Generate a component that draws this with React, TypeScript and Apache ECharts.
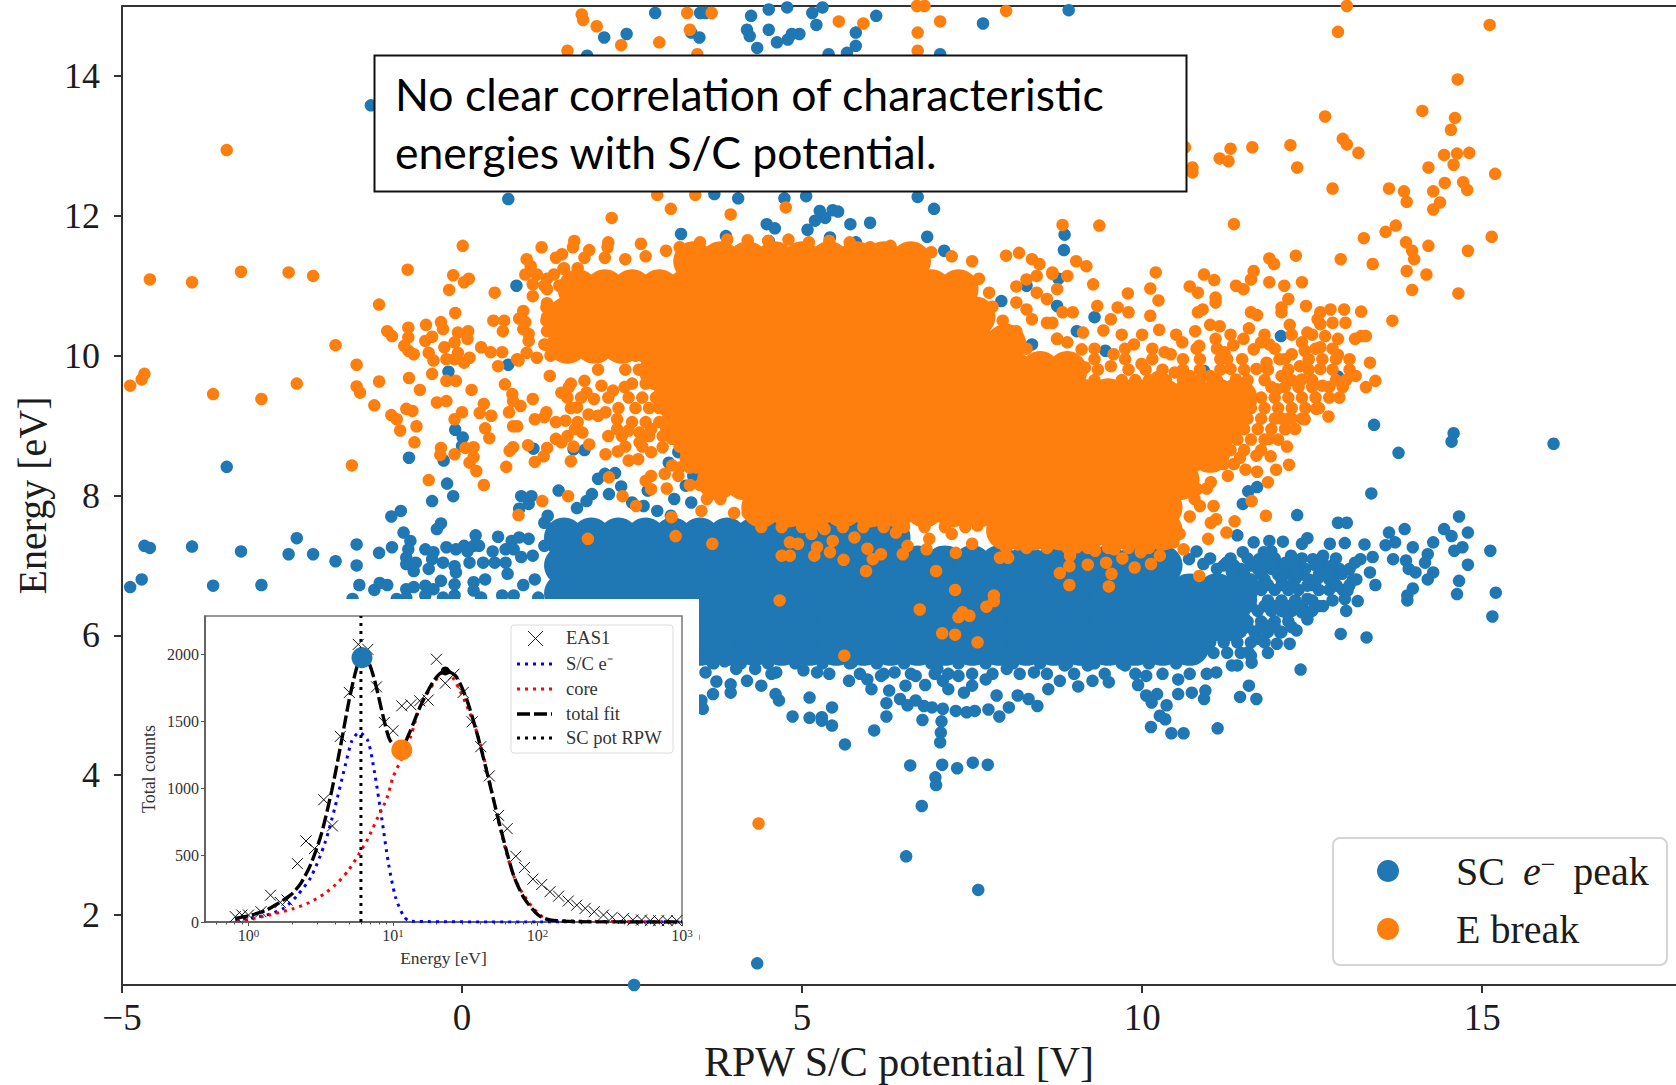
import React, { useEffect, useRef } from "react";
import * as echarts from "echarts";

// Each row: energy, then the potentials of marks across the saturated mass at that energy.
const blueCoreRows = [
  [7.4, 1.5,1.9,2.3,2.7,3.1,3.5,3.9,4.3,4.7,5.1,5.5,5.9,6.3],
  [7.0, 1.5,1.9,2.3,2.7,3.1,3.5,3.9,4.3,4.7,5.1,5.5,5.9,6.3,6.7,7.1,7.5,7.9,8.3,8.7,9.1,9.5,9.9,10.3],
  [6.6, 1.5,1.9,2.3,2.7,3.1,3.5,3.9,4.3,4.7,5.1,5.5,5.9,6.3,6.7,7.1,7.5,7.9,8.3,8.7,9.1,9.5,9.9,10.3,10.7,11.1,11.4],
  [6.2, 3.5,3.9,4.3,4.7,5.1,5.5,5.9,6.3,6.7,7.1,7.5,7.9,8.3,8.7,9.1,9.5,9.9,10.3,10.7,11.1,11.3],
  [5.85, 3.5,3.9,4.3,4.7,5.1,5.5,5.9,6.3,6.7,7.1,7.5,7.9,8.3,8.7,9.1,9.5,9.9,10.3,10.7],
];
const orangeCoreRows = [
  [11.35, 3.4,3.8,4.2,4.6,5,5.4,5.8,6.2,6.6],
  [10.95, 1.7,2.1,2.5,2.9,3.3,3.7,4.1,4.5,4.9,5.3,5.7,6.1,6.5,6.9,7.3],
  [10.56, 1.55,1.95,2.35,2.75,3.15,3.55,3.95,4.35,4.75,5.15,5.55,5.95,6.35,6.75,7.15,7.55],
  [10.17, 1.55,1.95,2.35,2.75,3.15,3.55,3.95,4.35,4.75,5.15,5.55,5.95,6.35,6.75,7.15,7.55,8.0],
  [9.78, 2.9,3.3,3.7,4.1,4.5,4.9,5.3,5.7,6.1,6.5,6.9,7.3,7.7,8.1,8.5,8.9],
  [9.39, 3.1,3.5,3.9,4.3,4.7,5.1,5.5,5.9,6.3,6.7,7.1,7.5,7.9,8.3,8.7,9.1,9.5,9.9,10.3,10.7,11.1,11.4],
  [9.0, 3.2,3.6,4,4.4,4.8,5.2,5.6,6,6.4,6.8,7.2,7.6,8,8.4,8.8,9.2,9.6,10,10.4,10.8,11.2],
  [8.61, 3.5,3.9,4.3,4.7,5.1,5.5,5.9,6.3,6.7,7.1,7.5,7.9,8.3,8.7,9.1,9.5,9.9,10.3,10.7,11],
  [8.22, 3.75,4.15,4.55,4.95,5.35,5.75,6.15,6.55,6.95,7.35,7.75,8.15,8.55,8.95,9.35,9.75,10.15,10.55],
  [7.83, 4.4,4.8,5.2,5.6,6,6.4,6.8,7.2,7.6,8,8.4,8.8,9.2,9.6,10,10.3],
  [7.5, 8,8.4,8.8,9.2,9.6,10,10.3],
];
// Dense single marks around the masses, row by row.
const blueFillRows = [
  [7.2, 10.8,11.9],
  [7.1, 11,11.3,11.55,11.95,12.2,12.35,12.65,12.85],
  [7.0, 11.2,11.35,11.6,11.85,12.05,12.25,12.55,12.8],
  [6.95, 11.1,11.45,11.7,11.9,12.1,12.4,12.7,12.9,13.05],
  [6.87, 11.5,11.75,12,12.2,12.35,12.6,12.85],
  [6.8, 11.6,11.8,12.05,12.25,12.45,12.75,13.1],
  [6.72, 11.65,11.85,12.05,12.2,12.5,12.85,13.05],
  [6.65, 11.75,11.95,12.15,12.3,12.6,12.75,12.95],
  [6.5, 11.6,11.85,12.05,12.25,12.5,12.8],
  [6.42, 11.6,11.8,11.95,12.15,12.35,12.6],
  [6.35, 11.5,11.7,11.9,12.05,12.2,12.5],
  [6.2, 11.55,11.75,11.95,12.15],
  [6.12, 11.4,11.55,11.75,11.95,12.2],
  [6.05, 11.3,11.45,11.65,11.85,12.05],
  [5.9, 11,11.2,11.4,11.6,11.8],
  [5.75, 10.85,11.05,11.25,11.45],
  [5.6, 3.7,4.1,4.5,4.9,5.3,5.7,6.1,6.5,6.9,7.3,7.7,8.1,8.5,8.9,9.3,9.7,10.1,10.5],
  [5.45, 4.55,5.4,5.85,6.2,6.6,6.95,7.15,7.5,7.8,8.2,8.6,9,9.45,9.9,10.3,10.7,10.95],
];
const orangeFillRows = [
  [11.25, 1.5,1.7],
  [11.1, 1.25],[10.95, 1.25],[10.75, 1.25],[10.55, 1.25],[10.35, 1.25],[10.15, 1.25],
  [10, 1.3,1.6,1.85,2.3,2.55,2.8],
  [9.8, 2,2.4,2.6,2.8],
  [9.6, 1.6,2.5,2.7,2.9,3],
  [9.4, 1.55,1.75,2.15,2.45,2.65,2.85],
  [9.25, 1.6,2.3,2.55,2.75,2.9],
  [9.05, 1.7,2.5,2.7,2.9],
  [8.85, 1.55,2.15,2.35,2.75,2.95,3.05],
  [8.7, 2.4,2.65,3.2],
  [8.4, 3.2,3.35,3.45],
  [8.15, 3.35,3.5],
  [7.95, 3.6,3.8],
  [7.75, 4,4.2,4.4],
  [7.55, 4.4,4.7,5,5.3,5.6,5.9,6.2,6.5,6.8,7.1,7.4],
  [7.25, 8,8.3,8.6,8.9,9.2,9.5,9.8,10.1],
  [10.3, 9.7,10,10.5,11.3,11.8,12.2,12.5],
  [10.1, 8.3,9.3,9.75,10.15,10.8,11.1,11.95,12.55,12.8],
  [9.95, 8.55,9.3,9.75,10.15,10.6,10.85,11.15,11.25,12.1,12.45,12.85,13.05],
  [9.8, 8.95,9.35,9.8,10.05,10.3,10.6,10.85,11.15,11.5,11.85,12.15,12.45,12.8,13.05],
  [9.65, 9.3,9.7,9.9,10.1,10.35,10.6,10.85,11.1,11.55,11.8,12.2,12.5,12.85,13],
  [9.55, 11.9,12.1,12.3,12.5,12.75,12.95],
  [9.4, 11.75,11.95,12.15,12.35,12.55,12.75,12.9],
  [9.25, 11.6,11.8,12,12.2,12.4,12.6],
  [9.1, 11.55,11.75,11.95,12.05,12.15,12.2,12.35],
  [8.95, 11.5,11.7,11.9,12.1,12.25],
  [8.8, 11.4,11.6,11.8,12],
  [8.65, 11.3,11.5,11.75],
  [8.45, 11,11.2,11.35],
  [8.1, 10.95],[7.85, 10.85],[7.7, 10.7],[7.45, 10.55],
  [11.1, 7.6],[10.9, 7.75],[10.7, 7.8],[10.5, 7.95],[10.35, 8.15],
];

// Individual marks: flat x,y pairs.
const blueUpper = [-1.34,13.58,0.68,12.24,3.22,11.74,0.8,11,0.68,9.87,-0.2,9.77,2.84,14.9,2.09,14.55,2.42,14.6,1.84,14.29,3.37,14.62,3.49,14.55,3.5,14.9,
  6.09,14.86,5.15,14.9,5.3,14.98,4.51,14.95,4.78,14.98,4.25,14.86,5.21,14.73,4.51,14.66,4.19,14.66,4.23,14.57,4.96,14.6,4.85,14.6,4.79,14.52,4.63,14.48,5.79,14.62,5.79,14.43,4.34,14.4,5.39,14.31,5.66,14.33,7.66,14.75,8.92,14.94,7.03,14.31,3.58,14.9,
  3.71,12.31,4.06,12.25,4.74,12.25,5.06,12.28,6.7,12.27,6.94,12.1,5.26,12.07,5.45,12.08,5.53,12.06,5.34,11.97,5.19,11.93,5.71,11.88,6,11.9,4.48,11.88,4.6,11.82,5.08,11.8,5.41,11.69,3.88,11.71,4.51,11.64,5.79,11.62,6.84,11.7,7.09,11.5,8.86,11.73,8.85,11.51,
  7.93,10.78,8.3,11,8.75,10.71,8.38,10.16,12.04,10.28,9.3,10.55,9.04,10.35,9.46,10.07,10.91,9.78,12.88,9.7,8.77,11.1];
const blueLeft = [-3.46,8.41,-0.78,8.54,-0.27,8.5,-0.1,8.94,0.01,8.83,0,8.71,1.05,8.67,1.64,8.66,1.8,8.65,-0.22,8.17,-0.13,7.99,-0.44,7.92,-0.9,7.78,-1.04,7.7,-0.31,7.6,-0.37,7.52,
  -4.67,7.28,-4.59,7.25,-3.97,7.27,-3.25,7.2,-2.43,7.39,-2.55,7.16,-2.19,7.16,-1.86,7.06,-1.55,7.3,-1.55,7,-1.22,7.18,-1.03,7.26,-4.88,6.69,-4.71,6.8,-3.66,6.71,-2.95,6.72,-1.51,6.72,-1.29,6.65,-1.21,6.75,-1.1,6.72,
  -0.86,7.47,-0.76,7.35,-0.79,7.23,-0.82,7.11,-0.82,7.02,-0.68,7.04,-0.71,6.92,-0.49,6.95,-0.54,7.23,-0.42,7.19,-0.44,7.09,-0.28,7.04,-0.09,7.23,-0.23,7.26,0.03,7.28,0.2,7.43,0.17,7.28,0.25,7.28,-0.11,6.99,-0.09,6.9,0.08,7.2,0.11,7.04,0.31,7.04,0.45,7.2,0.48,7.04,
  0.53,7.41,0.73,7.35,0.84,7.4,0.98,7.38,0.64,7.23,0.76,7.23,0.64,7.04,0.67,6.88,0.87,7.12,1.04,7.14,1.21,7.28,1.21,7.61,1.26,7.71,0.34,6.8,0.17,6.76,0.17,6.64,0.9,6.72,1.07,6.8,
  -0.82,6.66,-0.71,6.69,-0.54,6.71,-0.42,6.66,-0.31,6.78,-0.11,6.73,-0.54,6.57,-0.82,6.54,-0.96,6.52,-1.61,6.52,-0.11,6.57,-0.28,6.54,0.28,6.54,0.59,6.57,0.76,6.57,1.12,6.54,
  0.87,7.99,1.02,7.99,0.84,7.81,0.98,7.88,1.42,8.07,1.69,7.82,1.83,7.92,1.91,8.02,2.16,8.02,2,8.24,2.1,8.31,2.25,8.32,2.34,8.13,3.04,8.47,3.18,8.62,2.73,8.07,2.5,7.9,2.67,7.85,2.87,7.78,3.07,7.71,3.4,8.28,3.29,8.14,3.12,7.95,3.37,7.9,5.18,8.19,9.23,7.88];
const blueRight = [13.41,9.01,14.58,8.89,14.55,8.77,13.77,8.61,13.37,8.03,12.28,7.72,12.88,7.61,13.01,7.61,14.66,7.7,11.56,8.06,11.69,8.12,11.48,7.88,16.05,8.74,
  11.4,7.43,11.64,7.33,11.87,7.35,12.07,7.34,12.35,7.31,12.43,7.39,12.76,7.31,12.98,7.32,13.27,7.3,13.58,7.29,13.63,7.47,13.86,7.52,13.72,7.33,13.98,7.26,14.28,7.33,14.44,7.52,14.55,7.42,14.79,7.47,14.71,7.26,14.59,7.21,15.12,7.21,14.79,7.01,
  13.69,7.09,13.88,7.07,13.92,6.95,14.02,6.9,14.2,7.16,14.16,7.04,14.28,6.9,14.2,6.8,13.39,7.12,13.21,7.09,13.13,7.04,13.35,6.9,13.15,6.8,13.43,6.72,13.98,6.67,13.9,6.57,13.9,6.5,14.66,6.78,14.63,6.59,15.2,6.61,15.15,6.27,
  13.17,6.49,13,6.35,12.92,6.02,13.3,5.97,12.33,5.51,12.43,6.23,12.27,6.07,12.17,5.88,11.98,5.88,11.85,5.75,
  12.51,7.09,12.66,7.14,12.78,6.99,12.94,6.88,12.86,6.71,13.02,6.64,12.98,6.52,12.66,6.42,12.43,6.52,12.58,6.81,12.19,7.14,12.27,6.9,12.11,7.04,11.87,7.09,11.79,7.19,12.43,6.71,12.35,6.33,12.11,6.33,11.87,6.14,12.03,6.04,11.72,5.95,11.56,5.76,11.4,5.57,11.6,5.71,10.69,7.09,11.24,7.04,11.48,7.19,11.72,7.09,11.32,6.9,10.9,7.02];
const blueLower = [11.57,5.28,11.44,5.12,11.68,5.09,11.11,4.67,10.61,4.6,10.43,4.6,10.13,4.69,10.34,4.8,10.26,4.85,10.93,5.21,10.91,5.09,10.73,5.18,10.53,5.16,10.36,5,10.14,5.04,10.06,5.14,9.94,5.29,10.22,5.16,
  9.51,5.33,9.27,5.35,9.06,5.27,8.79,5.35,8.62,5.23,8.46,4.99,8.33,5.09,8.17,5.14,8.04,4.97,7.9,4.84,7.86,5.14,7.74,4.94,7.54,4.92,7.42,4.9,7.26,4.92,7.07,4.95,6.91,4.97,6.79,4.99,6.67,5.07,6.44,5.09,6.55,5,6.24,5.03,6.24,4.84,6.06,4.64,
  6.77,4.79,7.05,4.77,7.04,4.61,7.03,4.47,6.59,4.14,7.06,4.15,7.28,4.1,7.51,4.18,7.73,4.15,6.96,3.97,6.97,3.86,6.76,3.56,
  5.63,4.44,5.44,4.71,5.29,4.83,5.29,4.78,5.11,4.82,4.86,4.84,5.44,4.97,5.11,5.11,4.66,5.07,4.61,5.16,4.4,5.28,3.95,5.3,3.95,5.18,3.69,5.16,3.74,5.34,4.19,5.35,3.54,4.95,3.52,5.07,3.58,5.47,3.86,5.63,
  5.69,5.35,6.02,5.23,6.28,5.21,5.96,5.37,6.16,5.42,6.52,5.28,6.81,5.29,7.07,5.35,7.15,5.23,7.38,5.18,7.5,5.28,4.62,5.47,5.22,5.47,5.02,5.5,4.31,5.52,4.03,5.52,3.68,5.61,
  5.73,5.61,6.36,5.47,6.67,5.42,6.99,5.52,7.3,5.42,7.7,5.37,8.01,5.52,8.41,5.47,8.86,5.57,9.2,5.57,9.75,5.57,10.06,5.42,10.53,5.37,11.09,5.47,11.32,5.57,11.61,5.61,
  4.34,1.31,2.53,1.0,6.53,2.84,7.59,2.36];

const orangeFarLeft = [-4.88,9.57,-4.71,9.66,-4.67,9.74,-3.66,9.45,-2.95,9.38,-2.43,9.6,-1.55,9.87,-1.55,9.56,-1.5,9.47,-1.22,9.63,-0.78,9.68,-0.62,9.51,-0.44,9.74,-1.29,9.29,-1.04,9.15,-0.96,9.09,-0.82,9.24,-0.73,9.21,-0.91,8.93,-0.67,8.99,-0.7,8.76,-1.62,8.43,-0.49,8.22,-0.31,8.68,-0.32,8.58,-0.11,8.59,0.05,8.68,0.17,8.69,0.17,8.55,0.11,8.47,0.21,8.35,0.32,8.15,
  -3.46,12.94,-4.59,11.09,-3.97,11.05,-3.25,11.2,-2.55,11.19,-2.19,11.14,-0.8,11.23,0.01,11.57,-0.13,11.15,-0.19,10.94,0.03,11.05,0.1,11.1,0.48,10.9,-1.22,10.73,-0.1,10.61,-1.86,10.15,-1.1,10.35,-1.03,10.28,-0.79,10.4,-0.79,10.26,-0.53,10.44,-0.31,10.48,-0.28,10.38,-0.06,10.33,0.09,10.35,0.08,10.24,0.46,10.5,0.62,10.5,0.6,10.35,
  -0.54,10.21,-0.44,10.27,-0.85,10.14,-0.79,10.07,-0.71,10.02,-0.49,10.04,-0.42,9.93,-0.26,10.12,-0.11,10.19,-0.06,10.04,-0.23,9.95,-0.11,9.95,0.11,9.97,0.03,9.9,0.28,10.12,0.42,10.05,0.59,10.05];
const orangeNearLeft = [0.65,8.41,0.7,8.64,0.75,8.69,0.97,8.72,1.07,8.48,1.2,8.56,1.25,8.68,1.6,8.49,1.64,8.7,1.87,8.73,2.11,8.59,2.29,8.63,1.18,7.92,0.83,7.72,1.56,7.99,2.16,8.26,2.36,7.99,2.56,7.85,1.85,7.38,3.08,7.69,3.14,7.42,
  -0.11,9.09,0,9.19,-0.37,9.33,-0.23,9.35,0.14,9.51,-0.23,9.64,-0.09,9.64,0.32,9.31,0.26,9.18,0.43,9.14,0.34,8.96,0.4,8.82,0.69,9.19,0.75,8.99,0.81,8.99,0.63,9.59,0.74,9.45,0.75,9.35,0.86,9.28,1.04,9.38,0.53,9.85,0.83,9.93,1.29,9.71,
  1.07,9.09,1.21,9.12,1.24,9.19,1.38,9.05,1.52,9.07,1.66,8.95,1.77,8.9,1.38,8.81,1.46,8.76,1.46,9.47,1.57,9.55,1.8,9.64,1.83,9.47,1.69,9.26,1.94,9.38,1.86,9.16,2,9.14,2.11,9.19,2.05,9.57,2.22,9.5,2.39,9.55,
  2.28,9.09,2.28,8.95,2.45,8.93,2.61,8.9,2.61,8.76,2.78,8.95,2.45,8.5,2.59,8.52,2.78,8.62,2.95,8.69,3.09,8.81,2.7,8.21,2.78,8.28,2.98,8.31,3.01,8.1,3.18,8.28,3.09,8.43,3.29,8.52,2.78,8.09,
  0.95,11.38,1.01,11.28,1.1,11.16,0.93,11.16,1.17,11.55,1.38,11.4,1.47,11.45,1.49,11.24,1.35,11.16,1.65,11.64,1.63,11.55,1.87,11.51,2.15,11.62,2.14,11.55,2.63,11.6,1.04,11.02,1.21,11,1.04,10.85,1.43,11,1.24,10.69,1.24,10.5,1.21,10.16,
  0.9,10.64,0.84,10.53,0.93,10.48,0.9,10.38,0.98,10.31,0.98,10.21,0.81,9.95,0.95,10.04,1.1,9.97,
  1.8,11.4,2.1,11.4,2.4,11.38,2.7,11.42,3,11.5,3.2,11.55,3.5,11.62,3.9,11.66,4.2,11.65,4.5,11.64,4.8,11.66,5.1,11.62,5.4,11.64,5.7,11.62,6,11.55,6.3,11.57,6.6,11.5,6.9,11.48,7.2,11.42,7.5,11.35];
const orangeLower = [3.52,7.78,3.68,7.31,4.67,6.5,5.62,5.71,4.7,7.14,4.82,7.14,4.82,7.33,4.94,7.31,5.18,7.14,5.22,7.26,5.41,7.19,5.45,7.35,5.14,7.54,5.14,7.45,5.33,7.52,5.61,7.08,5.77,7.4,5.94,6.92,5.96,7.24,6.04,7.09,6.16,7.16,6.48,7.16,6.38,7.47,6.55,7.28,6.83,7.23,6.87,7.38,6.97,6.92,7.26,7.18,7.2,7.45,7.5,7.31,
  7.91,7.11,8.03,7.11,7.97,7.33,8.17,7.3,8.37,7.4,7.58,7.57,7.25,6.65,6.73,6.37,7.82,6.57,7.82,6.49,7.71,6.41,7.3,6.26,7.36,6.33,7.46,6.28,7.06,6.03,7.25,6.01,7.58,5.9,
  8.79,6.89,8.93,6.72,8.93,6.99,8.94,7.14,9.2,7.01,9.55,6.88,9.51,6.7,9.04,7.26,9.47,7.04,9.71,7.1,9.89,6.97,10.13,7.02,10.26,7.14,10.61,7.23,10.84,6.85,9.31,7.21,9.59,7.23,9.98,7.19,10.46,7.33,10.97,7.38,11.24,7.47,11.36,7.63,11.09,7.66,11.01,7.61,
  11.05,7.85,11.61,7.92,11.82,7.71,11.85,8.19,11.52,8.37,11.69,8.34,11.97,8.37,12.16,8.44,11.26,8.28,11.68,8.57,11.89,8.56,11.44,8.54,12.13,8.7,12.74,9.13,12.56,9.24,12.39,9.09,10.81,8.09,11.01,8.19,10.77,7.95,12.11,8.95,11.87,8.81,
  4.36,3.31,3.41,1.68];
const orangeUpper = [1.76,14.88,1.78,14.8,1.98,14.71,2.34,14.44,2.9,14.48,3.31,14.9,3.35,14.66,1.55,14.36,3.46,14.31,2.2,11.97,3.07,12.1,2.87,12.3,3.43,12.3,
  12.88,14.63,15.11,14.73,13.01,15,14.64,13.95,14.12,13.5,14.6,13.4,12.69,13.42,14.54,13.23,12.95,13.1,13.01,13.02,13.18,12.9,12.18,13.01,11.62,12.98,11.3,12.96,11.14,12.82,11.27,12.78,12.28,12.69,10.74,12.69,10.74,12.62,10.63,12.98,12.8,12.39,13.63,12.39,13.85,12.35,13.89,12.2,14.28,12.35,14.38,12.19,14.28,12.09,14.45,12.47,14.72,12.48,14.78,12.37,14.21,12.69,14.44,12.87,14.63,12.89,14.81,12.9,14.58,12.73,15.19,12.6,15.14,11.7,14.79,11.5,14.21,11.57,13.73,11.86,13.58,11.77,13.26,11.68,13.88,11.62,13.97,11.5,14,11.38,13.39,11.31,12.92,11.38,12.26,11.43,11.87,11.39,11.94,11.31,11.35,11.88,13.89,11.21,14.18,11.16,13.97,10.94,14.65,10.89,13.68,10.5,9.37,11.86,8.83,11.87,9.03,11.35,9.18,11.28,
  8,14.93,6.7,14.62,7.03,14.78,6.69,15,6.8,15,5.9,14.75,5.54,14.78,6.7,14.36,3.67,14.9,3.95,12.02,4.76,12.12];
const orangeWing = [10.2,11.19,10.91,11.16,11.06,11.08,10.7,10.99,10.82,10.9,11.08,10.83,11.08,10.76,10.12,10.96,9.79,10.89,10.24,10.79,9.28,11.02,8.9,11.14,8.68,11.17,10.89,10.66,10.82,10.62,9.34,10.71,9.64,10.69,9.54,10.52,9.8,10.62,10.12,10.57,10.25,10.37,9.43,10.36,9.88,10.16,9.11,10.09,10.33,10.05,10.42,10.02,10.59,10.19,10.84,10.14,10.78,10.35,11,10.44,11.14,10.42,11.08,10.24,11.34,10.15,11.21,10.05,11.49,10.24,11.57,10.39,
  11.38,11,11.49,10.95,11.6,11.09,11.64,11.21,11.87,11.05,12.09,11,12.35,11.05,12.15,10.81,12.05,10.69,12.05,10.62,12.41,10.71,11.6,10.62,11.69,10.58,12.17,10.44,12.62,10.62,12.77,10.66,12.97,10.66,13.22,10.63,12.62,10.45,12.8,10.47,12.99,10.47,12.58,10.52,
  12.43,10.33,12.35,10.19,12.69,10.28,12.88,10.24,13.22,10.28,13.13,10.24,13.29,10.28,12.62,10.12,12.88,10.01,13.35,9.9,13.14,9.71,13.43,9.64,13.29,9.55,
  11.75,10.19,11.87,10.16,11.47,9.95,11.64,10.09,11.83,9.9,12.02,9.95,12.2,10.02,12.39,10.07,12.65,9.95,12.32,9.85,12.62,9.81,12.05,9.71,12.35,9.66,12.65,9.57,11.98,9.52,11.38,9.66,11.68,9.81,11.3,9.81,11,9.71,10.7,9.71,10.48,9.76,10.22,9.69,9.99,9.88,9.58,10.02,9.54,9.85,9.16,9.83,8.9,10.19,9.13,10.33,8.75,10.24,8.6,10.47,
  8,11.43,8.19,11.47,8.38,11.38,8.49,11.31,8.3,11.09,8.45,11.14,8.15,10.99,8.68,11.19,8.45,10.9,8.15,10.76,8.3,10.66,8.6,10.81,8.75,10.95,8.83,10.62,8.98,10.62,8.38,10.52,8.68,10.47,8.75,10.24];

// Inset: EAS1 spectrum (energy eV, counts)
const eas1 = [0.81,40,0.9,52,1,52,1.22,77,1.42,200,1.66,146,1.85,164,2.18,436,2.5,605,2.86,548,3.32,913,3.81,717,4.32,1386,4.99,1714,5.75,2073,6.7,2036,7.69,1756,8.71,1490,10,1428,11.5,1614,13.3,1622,15.3,1652,17.5,1657,20,1962,23,1783,26.4,1850,30.6,1714,35.3,1495,40.5,1309,46.4,1091,53.8,796,61.7,697,70.8,491,81.2,407,93,320,107,280,122,226,140,193,163,156,187,126,214,102,247,77,286,52,329,35,394,27,457,15,525,15,603,10,689,10,790,10,920,10];
const totalFit = [0.81,27,1,47,1.33,89,1.95,200,2.3,288,2.71,436,3.2,660,3.77,982,4.32,1305,4.96,1652,5.53,1875,6,1974,6.7,1950,7.48,1800,8.58,1528,9.57,1354,11.3,1292,12.9,1404,15.7,1627,19.5,1813,23,1875,27.1,1838,32,1676,37.7,1428,44.4,1131,52.4,808,60,560,68.9,337,81,176,101,52,122,15,186,2,1000,0];
const scElectron = [0.81,15,1,27,1.33,52,1.75,102,2.18,200,2.71,337,3.37,585,3.97,858,4.7,1180,5.2,1354,5.84,1416,6.7,1354,7.48,1106,8.33,784,9.31,436,10.4,188,11.9,40,13.3,5,107,0,1000,0];
const coreFit = [0.83,15,1,20,1.4,52,2.07,102,2.64,146,3.37,213,4.2,300,4.96,392,5.84,511,6.7,622,7.87,784,9.04,920,10,1081,11.3,1205,13.3,1391,15.7,1627,23,1875,37.7,1428,68.9,337,122,15,1000,0];
const scPotLine = [6, 0, 6, 2285];
const peakMark = [6.1, 1974];
const breakMark = [11.5, 1285];
const corePeakMark = [23, 1875];

const xTicks = [-5, 0, 5, 10, 15];
const yTicks = [2, 4, 6, 8, 10, 12, 14];
const insetXMajor = [1, 10, 100, 1000];
const insetXMinor = [0.6,0.7,0.8,0.9,2,3,4,5,6,7,8,9,20,30,40,50,60,70,80,90,200,300,400,500,600,700,800,900];
const insetYTicks = [0, 500, 1000, 1500, 2000];

const BLUE = "#1f77b4";
const ORANGE = "#ff7f0e";
const SERIF = "Liberation Serif";
const INK = "#1c1c1c";
const SC_NAME = "SC e⁻ peak";
const BREAK_NAME = "E break";

const pairs = (a: number[]) => {
  const out: number[][] = [];
  for (let i = 0; i + 1 < a.length; i += 2) out.push([a[i], a[i + 1]]);
  return out;
};
const rows = (r: number[][]) => r.flatMap(([y, ...xs]) => xs.map((x) => [x, y]));

const scatter = (name: string, color: string, data: number[][], size: number) => ({
  type: "scatter", name, data, xAxisIndex: 0, yAxisIndex: 0, symbolSize: size, z: 1, clip: true,
  itemStyle: { color, opacity: 1 }, emphasis: { disabled: true },
});
const insetLine = (name: string, data: number[][], color: string, dash: number[], width: number, z = 4) => ({
  type: "line", name, data, xAxisIndex: 1, yAxisIndex: 1, showSymbol: false, symbol: "none", smooth: 0.25, z,
  lineStyle: { color, width, type: dash }, emphasis: { disabled: true },
});
const insetMark = (name: string, value: number[], size: number, color: string) => ({
  type: "scatter", name, data: [value], xAxisIndex: 1, yAxisIndex: 1, z: 6, symbolSize: size,
  itemStyle: { color, opacity: 1 }, emphasis: { disabled: true },
});

const DOT = [3, 5];
const legendRows = [
  { y: 664, color: "#0000ff", dash: DOT, width: 3 },
  { y: 689, color: "#ff0000", dash: DOT, width: 3 },
  { y: 714, color: "#000", dash: [13, 4], width: 3.4 },
  { y: 738, color: "#000", dash: DOT, width: 3 },
];

function buildOption() {
  const insetText = { fontFamily: SERIF, fontSize: 18.5, fill: "#333" };
  return {
    animation: false,
    backgroundColor: "#fff",
    grid: [
      { left: 122, top: 6, width: 1554, height: 979, show: false, outerBoundsMode: "none" },
      { left: 205, top: 616, width: 477, height: 306, show: true, backgroundColor: "#fff", borderColor: "#777", borderWidth: 1.5, z: 3, outerBoundsMode: "none" },
    ],
    xAxis: [
      {
        type: "value", gridIndex: 0, min: -5, max: 17.85, z: 0,
        name: "RPW S/C potential [V]", nameLocation: "middle", nameGap: 52,
        nameTextStyle: { fontFamily: SERIF, fontSize: 42, color: INK },
        axisLine: { onZero: false, lineStyle: { color: "#333", width: 2 } },
        axisTick: { show: true, length: 8, customValues: xTicks, lineStyle: { color: "#333", width: 2 } },
        axisLabel: { customValues: xTicks, margin: 14, fontFamily: SERIF, fontSize: 37, color: INK, formatter: (v: number) => String(v).replace("-", "−") },
        splitLine: { show: false },
      },
      {
        type: "log", gridIndex: 1, position: "bottom", min: 0.5, max: 1000, logBase: 10, z: 3,
        name: "Energy [eV]", nameLocation: "middle", nameGap: 27,
        nameTextStyle: { fontFamily: SERIF, fontSize: 17.5, color: "#333" },
        axisLine: { onZero: false, lineStyle: { color: "#555", width: 1.5 } },
        axisTick: { length: 4, customValues: insetXMajor, lineStyle: { color: "#555" } },
        axisLabel: {
          customValues: insetXMajor, margin: 5, fontFamily: SERIF, fontSize: 16, color: "#333", hideOverlap: false,
          formatter: (v: number) => `{b|10}{s|${Math.round(Math.log10(v))}}`,
          rich: { b: { fontFamily: SERIF, fontSize: 16, color: "#333" }, s: { fontFamily: SERIF, fontSize: 11, color: "#333", verticalAlign: "top" } },
        },
        splitLine: { show: false },
      },
      {
        type: "log", gridIndex: 1, position: "bottom", min: 0.5, max: 1000, logBase: 10, z: 3,
        axisLine: { show: false, onZero: false },
        axisTick: { length: 2.5, customValues: insetXMinor, lineStyle: { color: "#555" } },
        axisLabel: { show: false }, splitLine: { show: false },
      },
    ],
    yAxis: [
      {
        type: "value", gridIndex: 0, min: 1, max: 15, z: 0,
        name: "Energy [eV]", nameLocation: "middle", nameGap: 70,
        nameTextStyle: { fontFamily: SERIF, fontSize: 40, color: INK },
        axisLine: { show: true, onZero: false, lineStyle: { color: "#333", width: 2 } },
        axisTick: { show: true, length: 8, customValues: yTicks, lineStyle: { color: "#333", width: 2 } },
        axisLabel: { customValues: yTicks, margin: 22, fontFamily: SERIF, fontSize: 36, color: INK },
        splitLine: { show: false },
      },
      {
        type: "value", gridIndex: 1, min: 0, max: 2285, z: 3,
        name: "Total counts", nameLocation: "middle", nameGap: 47,
        nameTextStyle: { fontFamily: SERIF, fontSize: 18, color: "#333" },
        axisLine: { show: true, onZero: false, lineStyle: { color: "#555", width: 1.5 } },
        axisTick: { show: true, length: 4, customValues: insetYTicks, lineStyle: { color: "#555" } },
        axisLabel: { customValues: insetYTicks, margin: 6, fontFamily: SERIF, fontSize: 16, color: "#333", formatter: (v: number) => String(v) },
        splitLine: { show: false },
      },
    ],
    legend: {
      show: true, selectedMode: false, orient: "vertical", left: 1377, top: 851, padding: 0,
      data: [SC_NAME, BREAK_NAME], itemWidth: 22, itemHeight: 22, itemGap: 18, z: 4,
      textStyle: {
        fontFamily: SERIF, fontSize: 40, color: INK,
        rich: {
          g: { width: 52 },
          w: { width: 8 },
          t: { fontFamily: SERIF, fontSize: 40, color: INK },
          i: { fontFamily: SERIF, fontStyle: "italic", fontSize: 40, color: INK },
          s: { fontFamily: SERIF, fontSize: 26, color: INK, verticalAlign: "top" },
        },
      },
      formatter: (n: string) => (n === SC_NAME ? "{g|}{t|SC }{w|}{i|e}{s|−}{w|}{t| peak}" : `{g|}{t|${n}}`),
    },
    series: [
      scatter(SC_NAME, BLUE, rows(blueCoreRows), 40),
      scatter(SC_NAME, BLUE, [...rows(blueFillRows), ...pairs([...blueUpper, ...blueLeft, ...blueRight, ...blueLower])], 12.5),
      scatter(BREAK_NAME, ORANGE, rows(orangeCoreRows), 40),
      scatter(BREAK_NAME, ORANGE, [...rows(orangeFillRows), ...pairs([...orangeFarLeft, ...orangeNearLeft, ...orangeLower, ...orangeUpper, ...orangeWing])], 12.5),
      insetLine("S/C e⁻", pairs(scElectron), "#0000ff", DOT, 3),
      insetLine("core", pairs(coreFit), "#ff0000", DOT, 3),
      { ...insetLine("SC pot RPW", pairs(scPotLine), "#000", DOT, 3), smooth: false },
      insetLine("total fit", pairs(totalFit), "#000", [13, 4], 3.4, 5),
      {
        type: "scatter", name: "EAS1", data: pairs(eas1), xAxisIndex: 1, yAxisIndex: 1, z: 5,
        symbol: "path://M0 0L10 10M10 0L0 10", symbolSize: 11,
        itemStyle: { color: "transparent", borderColor: "#111", borderWidth: 1, opacity: 1 }, emphasis: { disabled: true },
      },
      insetMark("peak", peakMark, 21, BLUE),
      insetMark("break", breakMark, 21, ORANGE),
      insetMark("core peak", corePeakMark, 9, "#000"),
    ],
    graphic: {
      elements: [
        { type: "line", z: 1, shape: { x1: 122, y1: 6, x2: 1676, y2: 6 }, style: { stroke: "#333", lineWidth: 2 } },
        // white panel of the pasted inset
        { type: "rect", z: 2, shape: { x: 140, y: 599, width: 559, height: 376 }, style: { fill: "#fff" } },
        // annotation box
        { type: "rect", z: 20, shape: { x: 374.5, y: 55.5, width: 812, height: 136 }, style: { fill: "#fff", stroke: "#111", lineWidth: 2 } },
        { type: "text", z: 21, x: 395, y: 93, style: { text: "No clear correlation of characteristic", fontFamily: "Lato", fontSize: 44.5, fill: "#000", verticalAlign: "middle" } },
        { type: "text", z: 21, x: 395, y: 151, style: { text: "energies with S/C potential.", fontFamily: "Lato", fontSize: 44.5, fill: "#000", verticalAlign: "middle" } },
        // main legend frame
        { type: "rect", z: 3, shape: { x: 1333, y: 838, width: 334, height: 127, r: 7 }, style: { fill: "rgba(255,255,255,0.9)", stroke: "#d5d5d5", lineWidth: 2 } },
        // inset legend
        { type: "rect", z: 7, shape: { x: 511, y: 625, width: 162, height: 128, r: 3 }, style: { fill: "rgba(255,255,255,0.9)", stroke: "#ddd", lineWidth: 1 } },
        { type: "line", z: 8, shape: { x1: 528, y1: 631, x2: 543, y2: 646 }, style: { stroke: "#222", lineWidth: 1 } },
        { type: "line", z: 8, shape: { x1: 543, y1: 631, x2: 528, y2: 646 }, style: { stroke: "#222", lineWidth: 1 } },
        { type: "text", z: 8, x: 566, y: 638, style: { ...insetText, text: "EAS1", verticalAlign: "middle" } },
        ...legendRows.map((r) => ({ type: "line", z: 8, shape: { x1: 517, y1: r.y, x2: 552, y2: r.y }, style: { stroke: r.color, lineWidth: r.width, lineDash: r.dash } })),
        { type: "text", z: 8, x: 566, y: 664, style: { ...insetText, text: "S/C e⁻", verticalAlign: "middle" } },
        { type: "text", z: 8, x: 566, y: 689, style: { ...insetText, text: "core", verticalAlign: "middle" } },
        { type: "text", z: 8, x: 566, y: 714, style: { ...insetText, text: "total fit", verticalAlign: "middle" } },
        { type: "text", z: 8, x: 566, y: 738, style: { ...insetText, text: "SC pot RPW", verticalAlign: "middle" } },
      ],
    },
  };
}

export default function App() {
  const ref = useRef<HTMLDivElement>(null);
  useEffect(() => {
    document.body.style.margin = "0";
    document.body.style.overflow = "hidden";
    const chart = echarts.init(ref.current!, undefined, { renderer: "svg" });
    chart.setOption(buildOption() as any);
    return () => chart.dispose();
  }, []);
  return <div ref={ref} style={{ width: 1676, height: 1085 }} />;
}
